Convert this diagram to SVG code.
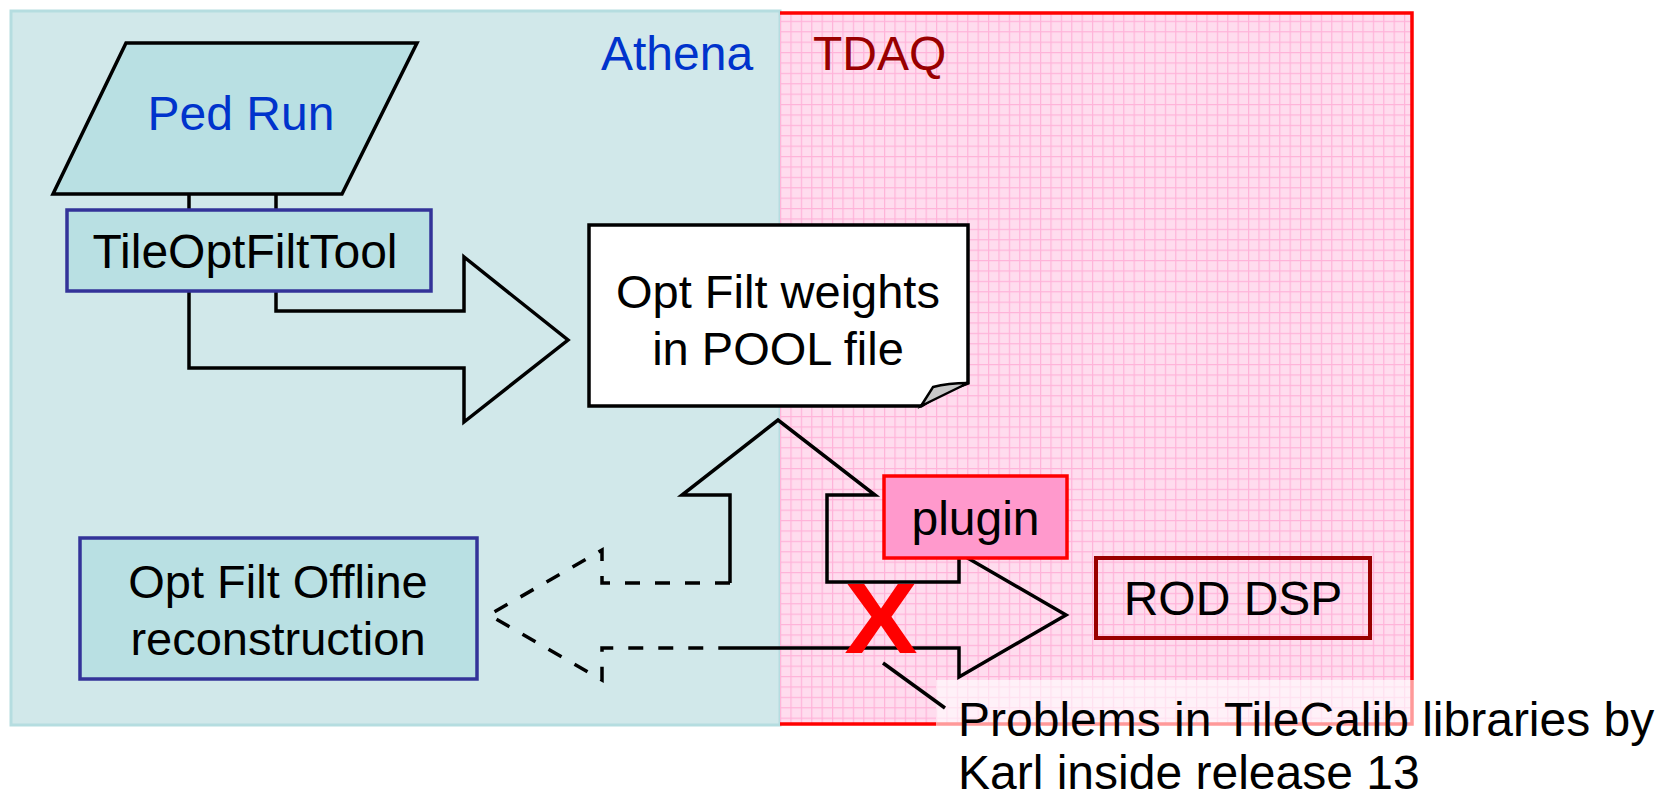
<svg xmlns="http://www.w3.org/2000/svg" width="1660" height="797" viewBox="0 0 1660 797">
<defs>
<pattern id="grid" width="10.4" height="10.4" patternUnits="userSpaceOnUse">
<rect width="10.4" height="10.4" fill="#ffdcee"/>
<path d="M0,0.6 H10.4 M0.6,0 V10.4" stroke="#ffb3d9" stroke-width="1.2" fill="none"/>
</pattern>
<style>
text{font-family:"Liberation Sans",Arial,sans-serif;font-size:48px;fill:#000}
.node{fill:#b9e0e3;stroke:#333399;stroke-width:3.5}
.arrow{fill:none;stroke:#000;stroke-width:3.5;stroke-linejoin:miter}
.dash{stroke-dasharray:15 15}
</style>
</defs>
<rect width="1660" height="797" fill="#fff"/>
<g id="athena-region">
<rect x="11" y="11" width="769" height="714" fill="#d1e8ea" stroke="#b5dde0" stroke-width="3"/>
<text x="601" y="70" style="fill:#0033cc">Athena</text>
</g>
<g id="tdaq-region">
<rect x="780" y="13" width="632" height="711" fill="url(#grid)"/>
<path d="M780,13 H1412 V724 H780" fill="none" stroke="#ff0000" stroke-width="3.5"/>
<text x="813" y="70" style="fill:#990000">TDAQ</text>
</g>
<g id="connectors">
<path class="arrow" d="M276,194 V311 H464 V257 L568,340 L464,422 V368 H189 V194"/>
<path class="arrow" d="M719,648 H959 V677 L1066,615 L959,553 V582 H827 V495 H875 L778,420 L682,495 H730 V583"/>
<path class="arrow dash" d="M730,583 H602 V550 L489,615 L602,680 V648 H719"/>
</g>
<g id="ped-run">
<polygon points="126,43 417,43 342,194 53,194" fill="#b9e0e3" stroke="#000" stroke-width="3.5"/>
<text x="241" y="130" text-anchor="middle" style="fill:#0033cc">Ped Run</text>
</g>
<g id="tileoptfilttool">
<rect class="node" x="67" y="210" width="364" height="81"/>
<text x="245" y="268" text-anchor="middle">TileOptFiltTool</text>
</g>
<g id="pool-file">
<path d="M589,225 H968 V383 Q945,390 921,406 H589 Z" fill="#fff" stroke="#000" stroke-width="3.5"/>
<path d="M921,406 L933,387 Q948,383 968,383 Z" fill="#c8c8c8" stroke="#000" stroke-width="2.5"/>
<text x="778" y="308" text-anchor="middle" style="font-size:47px">Opt Filt weights</text>
<text x="778" y="365" text-anchor="middle" style="font-size:47px">in POOL file</text>
</g>
<g id="opt-filt-offline">
<rect class="node" x="80" y="538" width="397" height="141"/>
<text x="278" y="598" text-anchor="middle" style="font-size:47px">Opt Filt Offline</text>
<text x="278" y="655" text-anchor="middle" style="font-size:47px">reconstruction</text>
</g>
<g id="plugin">
<rect x="884" y="476" width="183" height="82" fill="#ff99cc" stroke="#ff0000" stroke-width="3.5"/>
<text x="975.5" y="535" text-anchor="middle">plugin</text>
</g>
<g id="rod-dsp">
<rect x="1096" y="558" width="274" height="80" fill="none" stroke="#990000" stroke-width="4"/>
<text x="1233" y="615" text-anchor="middle">ROD DSP</text>
</g>
<g id="problem-note">
<rect x="936" y="680" width="724" height="117" fill="#fff" fill-opacity="0.6"/>
<text transform="translate(881,653) scale(1.1,1)" text-anchor="middle" style="font-size:100px;font-weight:bold;fill:#ff0000">X</text>
<line x1="883" y1="663" x2="945" y2="708" stroke="#000" stroke-width="3.5"/>
<text x="958" y="736">Problems in TileCalib libraries by</text>
<text x="958" y="789">Karl inside release 13</text>
</g>
</svg>
